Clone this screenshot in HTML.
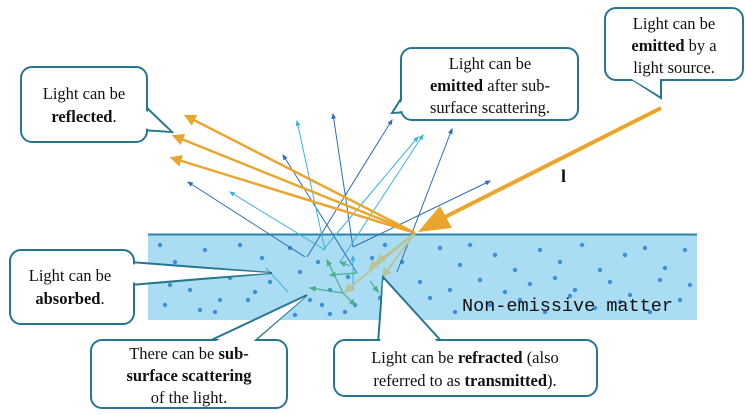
<!DOCTYPE html>
<html><head><meta charset="utf-8"><style>
html,body{margin:0;padding:0;background:#fff;}
svg{display:block;}
.ct{font-family:"Liberation Serif",serif;font-size:16.5px;fill:#111;}
</style></head><body>
<svg width="746" height="415" viewBox="0 0 746 415">
<defs>
<marker id="ao" viewBox="0 0 10 10" refX="8" refY="5" markerWidth="5" markerHeight="5" orient="auto"><path d="M0,0L10,5L0,10z" fill="#eaa52c"/></marker>
<marker id="ab" viewBox="0 0 10 10" refX="8" refY="5" markerWidth="6" markerHeight="6" orient="auto"><path d="M0,1L10,5L0,9z" fill="#2f6db5"/></marker>
<marker id="al" viewBox="0 0 10 10" refX="8" refY="5" markerWidth="6" markerHeight="6" orient="auto"><path d="M0,1L10,5L0,9z" fill="#3cb1dc"/></marker>
<marker id="ag" viewBox="0 0 10 10" refX="8" refY="5" markerWidth="6" markerHeight="6" orient="auto"><path d="M0,1L10,5L0,9z" fill="#4cb088"/></marker>
<marker id="at" viewBox="0 0 10 10" refX="8" refY="5" markerWidth="5" markerHeight="5" orient="auto"><path d="M0,0L10,5L0,10z" fill="#b8c49a"/></marker>
</defs>
<g>
<rect x="148" y="234" width="549" height="86" fill="#aadcf4"/>
<line x1="148" y1="234.5" x2="697" y2="234.5" stroke="#2a84a8" stroke-width="2"/>
<g id="dots" fill="#3f8fd6"></g>
<text x="462" y="311" font-family="Liberation Mono,monospace" font-size="18.5" fill="#111">Non-emissive matter</text>
</g>
<g id="rays">
<g stroke="#2f6db5" stroke-width="1" fill="none">
<line x1="353" y1="247" x2="333" y2="114" marker-end="url(#ab)"/>
<line x1="307" y1="257" x2="392" y2="120" marker-end="url(#ab)"/>
<line x1="397" y1="272" x2="452" y2="129" marker-end="url(#ab)"/>
<line x1="357" y1="273" x2="283" y2="155" marker-end="url(#ab)"/>
<line x1="305" y1="257" x2="188" y2="182" marker-end="url(#ab)"/>
<line x1="353" y1="247" x2="490" y2="181" marker-end="url(#ab)"/>
</g>
<g stroke="#3cb1dc" stroke-width="1" fill="none">
<line x1="325" y1="250" x2="297" y2="121" marker-end="url(#al)"/>
<line x1="323" y1="250" x2="418" y2="137" marker-end="url(#al)"/>
<line x1="340" y1="262" x2="423" y2="135" marker-end="url(#al)"/>
<line x1="325" y1="250" x2="230" y2="192" marker-end="url(#al)"/>
<line x1="288" y1="292" x2="266" y2="268" />
<line x1="353" y1="290" x2="353" y2="256" marker-end="url(#al)"/>
</g>
<g stroke="#4cb088" stroke-width="1.2" fill="none">
<line x1="343" y1="293" x2="310" y2="288" marker-end="url(#ag)"/>
<line x1="357" y1="273" x2="330" y2="275" marker-end="url(#ag)"/>
<line x1="343" y1="293" x2="327" y2="260" marker-end="url(#ag)"/>
<line x1="343" y1="293" x2="355" y2="305" marker-end="url(#ag)"/>
<line x1="370" y1="281" x2="378" y2="292" marker-end="url(#ag)"/>
<line x1="350" y1="266" x2="340" y2="262" marker-end="url(#ag)"/>
</g>
<g stroke="#b8c49a" stroke-width="2" fill="none">
<line x1="415" y1="233" x2="345" y2="292" marker-end="url(#at)"/>
<line x1="415" y1="233" x2="383" y2="276" marker-end="url(#at)"/>
<line x1="415" y1="233" x2="370" y2="268" marker-end="url(#at)"/>
<line x1="415" y1="233" x2="377" y2="262" marker-end="url(#at)"/>
</g>
<g stroke="#eaa52c" stroke-width="2.4" fill="none">
<line x1="415" y1="233" x2="186" y2="116" marker-end="url(#ao)"/>
<line x1="415" y1="233" x2="174" y2="136" marker-end="url(#ao)"/>
<line x1="415" y1="233" x2="172" y2="158" marker-end="url(#ao)"/>
</g>
<line x1="661" y1="108" x2="445" y2="217" stroke="#eaa52c" stroke-width="4"/>
<polygon points="418,232 440,206 452,228" fill="#eaa52c"/>
<text x="561" y="182" font-family="Liberation Serif,serif" font-weight="bold" font-size="18" fill="#111">l</text>
</g>
<g id="callouts" fill="#fff" stroke="#25768e" stroke-width="2">
<g>
<polygon points="145,106 172,132 140,130"/>
<rect x="21" y="67" width="126" height="75" rx="11"/>
<polygon points="143,108 170,131 140,128" stroke="none"/>
<text class="ct" stroke="none" x="84" y="99" text-anchor="middle">Light can be</text>
<text class="ct" stroke="none" x="84" y="122" text-anchor="middle"><tspan font-weight="bold">reflected</tspan>.</text>
</g>
<g>
<polygon points="404,94 392,113 408,112"/>
<rect x="401" y="48" width="177" height="72" rx="11"/>
<polygon points="405,96 394,112 409,110" stroke="none"/>
<text class="ct" stroke="none" x="490" y="69" text-anchor="middle">Light can be</text>
<text class="ct" stroke="none" x="490" y="91" text-anchor="middle"><tspan font-weight="bold">emitted</tspan> after sub-</text>
<text class="ct" stroke="none" x="490" y="113" text-anchor="middle">surface scattering.</text>
</g>
<g>
<polygon points="627,76 661,98 661,76"/>
<rect x="605" y="8" width="138" height="72" rx="11"/>
<polygon points="630,78 660,96 660,78" stroke="none"/>
<text class="ct" stroke="none" x="674" y="29" text-anchor="middle">Light can be</text>
<text class="ct" stroke="none" x="674" y="51" text-anchor="middle"><tspan font-weight="bold">emitted</tspan> by a</text>
<text class="ct" stroke="none" x="674" y="73" text-anchor="middle">light source.</text>
</g>
<g>
<polygon points="130,262 272,273 130,285"/>
<rect x="10" y="250" width="124" height="74" rx="11"/>
<polygon points="128,264 270,273 128,283" stroke="none"/>
<text class="ct" stroke="none" x="70" y="281" text-anchor="middle">Light can be</text>
<text class="ct" stroke="none" x="70" y="304" text-anchor="middle"><tspan font-weight="bold">absorbed</tspan>.</text>
</g>
<g>
<polygon points="205,343 307,295 252,343"/>
<rect x="91" y="340" width="196" height="68" rx="11"/>
<polygon points="208,345 305,297 249,345" stroke="none"/>
<text class="ct" stroke="none" x="189" y="359" text-anchor="middle">There can be <tspan font-weight="bold">sub-</tspan></text>
<text class="ct" stroke="none" x="189" y="381" text-anchor="middle" font-weight="bold">surface scattering</text>
<text class="ct" stroke="none" x="189" y="403" text-anchor="middle">of the light.</text>
</g>
<g>
<polygon points="378,343 383,277 443,343"/>
<rect x="334" y="340" width="263" height="56" rx="11"/>
<polygon points="380,345 383,280 440,345" stroke="none"/>
<text class="ct" stroke="none" x="465" y="363" text-anchor="middle">Light can be <tspan font-weight="bold">refracted</tspan> (also</text>
<text class="ct" stroke="none" x="465" y="386" text-anchor="middle">referred to as <tspan font-weight="bold">transmitted</tspan>).</text>
</g>
</g>
</svg>
<script>
const dotX=[160,175,205,220,240,262,290,300,318,330,348,372,385,402,440,460,470,495,515,540,560,582,600,625,645,665,685,170,200,230,255,280,310,330,355,380,420,450,480,505,530,555,575,610,630,660,690,165,190,215,248,270,295,322,345,400,430,455,490,520,545,570,595,620,650,680];
const dotY=[245,262,250,300,245,258,248,272,262,290,277,258,245,262,248,265,245,255,270,250,262,245,270,255,248,268,250,285,310,278,292,310,300,314,305,298,282,290,280,292,284,278,290,282,295,280,285,305,290,312,300,282,315,305,312,310,298,312,305,300,312,296,308,302,312,300];
const g=document.getElementById('dots');
for(let i=0;i<dotX.length;i++){const c=document.createElementNS('http://www.w3.org/2000/svg','circle');
c.setAttribute('cx',dotX[i]);c.setAttribute('cy',dotY[i]);c.setAttribute('r',2.2);


g.appendChild(c);}
</script>
</body></html>
